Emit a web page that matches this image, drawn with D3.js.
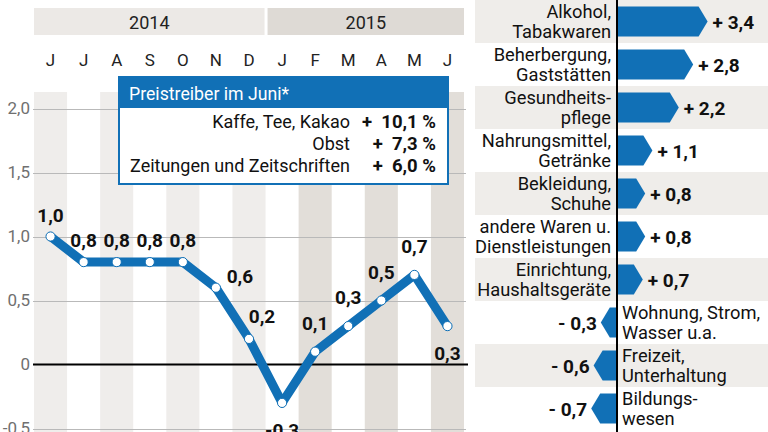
<!DOCTYPE html>
<html><head><meta charset="utf-8">
<script src="https://cdn.jsdelivr.net/npm/d3@7"></script>
<style>
html,body{margin:0;padding:0;background:#fff;}
svg{display:block;font-family:"Roboto",sans-serif;}
</style></head><body>
<svg id="chart" width="768" height="432"></svg>
<script>
// ---- data ----
const months = ["J","J","A","S","O","N","D","J","F","M","A","M","J"];
const years = ["2014","2015"];
const yearFirstMonth = [0, 7];
const inflation = [1.0,0.8,0.8,0.8,0.8,0.6,0.2,-0.3,0.1,0.3,0.5,0.7,0.3];
const yTicks = [-0.5,0,0.5,1.0,1.5,2.0];
const boxTitle = "Preistreiber im Juni*";
const driverLabels = ["Kaffe, Tee, Kakao","Obst","Zeitungen und Zeitschriften"];
const driverValues = [10.1,7.3,6.0];
const categories = [
  ["Alkohol,","Tabakwaren"],
  ["Beherbergung,","Gaststätten"],
  ["Gesundheits-","pflege"],
  ["Nahrungsmittel,","Getränke"],
  ["Bekleidung,","Schuhe"],
  ["andere Waren u.","Dienstleistungen"],
  ["Einrichtung,","Haushaltsgeräte"],
  ["Wohnung, Strom,","Wasser u.a."],
  ["Freizeit,","Unterhaltung"],
  ["Bildungs-","wesen"]
];
const categoryValues = [3.4,2.8,2.2,1.1,0.8,0.8,0.7,-0.3,-0.6,-0.7];

// ---- setup ----
const BLUE = "#1170b6";
const loc = d3.formatLocale({decimal:",",thousands:".",grouping:[3],currency:["","€"],minus:"-"});
const f1 = loc.format(".1f");
const svg = d3.select("#chart");

// ===== Left: line chart =====
const x = d3.scaleBand().domain(d3.range(months.length)).range([34, 464]);
const bw = x.bandwidth();
const cx = i => x(i) + bw/2;
const y = d3.scaleLinear().domain([-0.5, 2.0]).range([428.5, 108.5]);

// column stripes
svg.append("g").selectAll("rect").data(d3.range(months.length).filter(i => i%2===0))
  .join("rect")
  .attr("x", i => x(i)).attr("width", bw)
  .attr("y", 92).attr("height", 340)
  .attr("fill", i => i >= yearFirstMonth[1] ? "#e2ded9" : "#efedeb");

// year header
const yearEnd = [yearFirstMonth[1]-1, months.length-1];
const yg = svg.append("g");
years.forEach((yr, k) => {
  const x0 = x(yearFirstMonth[k]) + (k>0 ? 2 : 0);
  const x1 = x(yearEnd[k]) + bw - (k===0 ? 1 : 0);
  yg.append("rect").attr("x", x0).attr("y", 8).attr("width", x1-x0).attr("height", 27)
    .attr("fill", k===0 ? "#ece9e6" : "#dedad5");
  yg.append("text").attr("x", (x0+x1)/2).attr("y", 28.5).attr("text-anchor","middle")
    .attr("font-size", 18).attr("fill", "#222").text(yr);
});

// month labels
svg.append("g").selectAll("text").data(months).join("text")
  .attr("x", (d,i) => cx(i)).attr("y", 66).attr("text-anchor","middle")
  .attr("font-size", 17).attr("fill","#222").text(d => d);

// gridlines + tick labels
const grid = svg.append("g");
grid.selectAll("line").data(yTicks.filter(t => t!==0)).join("line")
  .attr("x1", 33).attr("x2", 466)
  .attr("y1", d => Math.round(y(d))+0.5).attr("y2", d => Math.round(y(d))+0.5)
  .attr("stroke", "#b9b9b9").attr("stroke-width", 1);
grid.selectAll("text").data(yTicks).join("text")
  .attr("x", 30).attr("y", d => y(d)).attr("dy","0.35em").attr("text-anchor","end")
  .attr("font-size", 17).attr("fill","#707070")
  .text(d => d===0 ? "0" : f1(d));
svg.append("line").attr("x1",33).attr("x2",468).attr("y1",y(0)).attr("y2",y(0))
  .attr("stroke","#000").attr("stroke-width",2.2);

// info box
const bx0 = 119, bx1 = 448, by0 = 77, by1 = 184;
svg.append("rect").attr("x",bx0).attr("y",by0).attr("width",bx1-bx0).attr("height",by1-by0)
  .attr("fill","#fff").attr("stroke",BLUE).attr("stroke-width",2);
svg.append("rect").attr("x",bx0).attr("y",by0).attr("width",bx1-bx0).attr("height",31)
  .attr("fill",BLUE);
svg.append("text").attr("x",129).attr("y",100).attr("font-size",17.7).attr("fill","#fff").text(boxTitle);
const rowY = [128, 150, 172];
driverLabels.forEach((lab, i) => {
  svg.append("text").attr("x",350).attr("y",rowY[i]).attr("text-anchor","end")
    .attr("font-size",18).attr("fill","#111").text(lab);
  svg.append("text").attr("x",436).attr("y",rowY[i]).attr("text-anchor","end")
    .attr("font-size",18.5).attr("font-weight","bold").attr("fill","#111")
    .attr("xml:space","preserve")
    .text("+  " + f1(driverValues[i]) + " %");
});

// line
const line = d3.line().x((d,i) => cx(i)).y(d => y(d));
svg.append("path").datum(inflation).attr("d", line)
  .attr("fill","none").attr("stroke",BLUE).attr("stroke-width",9)
  .attr("stroke-linejoin","round").attr("stroke-linecap","round");
svg.append("g").selectAll("circle").data(inflation).join("circle")
  .attr("cx",(d,i)=>cx(i)).attr("cy",d=>y(d)).attr("r",4.6)
  .attr("fill","#fff").attr("stroke",BLUE).attr("stroke-width",1);

// point labels
function labelPos(i){
  const v = inflation[i], prev = inflation[i-1], next = inflation[i+1];
  if (next === undefined || (prev !== undefined && v < prev && v < next)) return [0, 34];
  if (prev !== undefined && prev > v && next < v) return (prev - v > 0.3) ? [13,-16] : [24,-5];
  if (prev !== undefined && (prev < v)) return [0,-22];
  return [0,-15];
}
svg.append("g").selectAll("text").data(inflation).join("text")
  .attr("x",(d,i)=>cx(i)+labelPos(i)[0]).attr("y",(d,i)=>y(d)+labelPos(i)[1])
  .attr("text-anchor","middle").attr("font-size",19).attr("font-weight","bold")
  .attr("fill","#111").text(d => f1(d));

// ===== Right: bar chart =====
const rows = d3.scaleBand().domain(d3.range(categories.length)).range([0, 430]);
const rh = rows.bandwidth();
const rc = i => rows(i) + rh/2;
const xb = d3.scaleLinear().domain([0, 1]).range([617, 641]);
const tip = 9, bh = 30;

svg.append("g").selectAll("rect").data(d3.range(categories.length).filter(i=>i%2===0))
  .join("rect").attr("x",475).attr("width",293)
  .attr("y",i=>rows(i)).attr("height",rh).attr("fill","#efedea");

svg.append("g").selectAll("path").data(categoryValues).join("path")
  .attr("d",(v,i)=>{
    const c = rc(i), t = c - bh/2, b = c + bh/2, x0 = xb(0), x1 = xb(v);
    const s = v >= 0 ? 1 : -1;
    return `M${x0},${t}L${x1},${t}L${x1+s*tip},${c}L${x1},${b}L${x0},${b}Z`;
  }).attr("fill",BLUE);

svg.append("line").attr("x1",xb(0)).attr("x2",xb(0)).attr("y1",0).attr("y2",432)
  .attr("stroke","#000").attr("stroke-width",2);

svg.append("g").selectAll("text").data(categoryValues).join("text")
  .attr("x",(v)=> v>=0 ? xb(v)+tip+5 : xb(v)-tip-4)
  .attr("y",(v,i)=>rc(i)+7)
  .attr("text-anchor",v=>v>=0?"start":"end")
  .attr("font-size",19).attr("font-weight","bold").attr("fill","#111")
  .attr("xml:space","preserve")
  .text(v => (v>=0?"+ ":"- ") + f1(Math.abs(v)));

const cg = svg.append("g");
categories.forEach((lines, i) => {
  const pos = categoryValues[i] >= 0;
  const t = cg.append("text").attr("text-anchor", pos ? "end" : "start")
    .attr("font-size",18.3).attr("fill","#111");
  lines.forEach((ln, k) => {
    t.append("tspan").attr("x", pos ? 611 : 622)
      .attr("y", rc(i) + (k===0 ? (pos?-4:-4) : (pos?16:16))).text(ln);
  });
});
</script>
</body></html>
